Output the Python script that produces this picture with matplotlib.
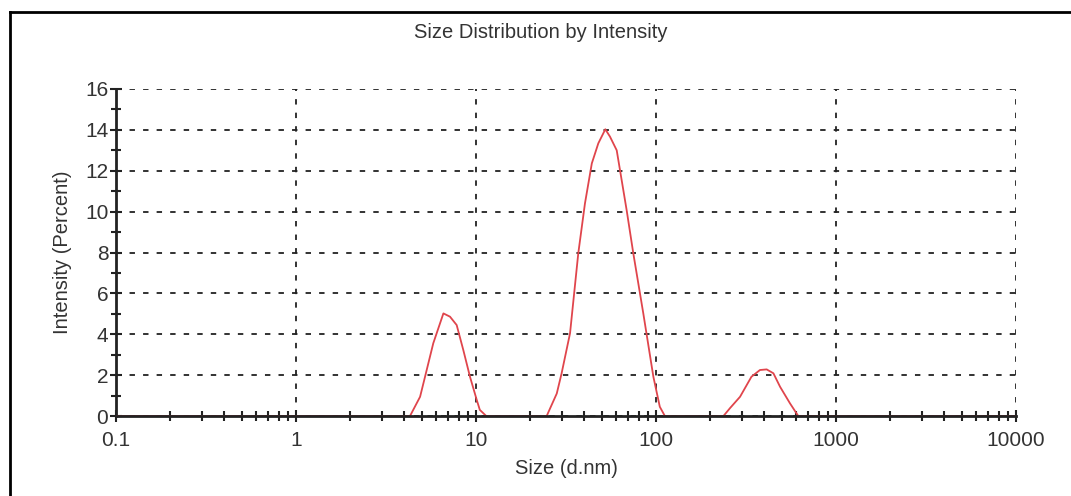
import matplotlib
matplotlib.use("Agg")
import matplotlib.pyplot as plt
from matplotlib.lines import Line2D
from matplotlib.ticker import LogLocator, FixedLocator, NullFormatter

plt.rcParams['font.family'] = ['Liberation Sans', 'DejaVu Sans']

title = "Size Distribution by Intensity"
x_label = "Size (d.nm)"
y_label = "Intensity (Percent)"

size_nm = [0.1, 4.3, 4.89, 5.21, 5.79, 6.59, 7.17, 7.81, 8.5, 9.26, 10.1, 10.5, 11.4,
           24.7, 28.1, 29.9, 33.3, 37, 40.3, 44, 47.8, 52.3, 55.5, 60.5, 68.7, 74.8,
           85, 96.7, 105, 112,
           237, 258, 293, 339, 378, 412, 449, 489, 555, 617, 10000]
intensity = [0, 0, 0.94, 1.92, 3.56, 5.02, 4.86, 4.45, 3.23, 1.92, 0.78, 0.3, 0,
             0, 1.1, 2.09, 4.05, 7.96, 10.4, 12.36, 13.34, 14.03, 13.67, 13.0, 10.07, 7.96,
             5.02, 1.92, 0.45, 0,
             0, 0.39, 0.94, 1.92, 2.25, 2.28, 2.09, 1.43, 0.62, 0, 0]

x_ticks = [0.1, 1, 10, 100, 1000, 10000]
x_tick_labels = ["0.1", "1", "10", "100", "1000", "10000"]
y_ticks = [0, 2, 4, 6, 8, 10, 12, 14, 16]
y_minor_ticks = [1, 3, 5, 7, 9, 11, 13, 15]

fig = plt.figure(figsize=(10.71, 4.96), dpi=100)
ax = fig.add_axes([116/1071, 1 - 416/496, (1016 - 116)/1071, (416 - 89)/496])

ax.plot(size_nm, intensity, color="#e0454c", linewidth=1.3, zorder=3)

ax.set_xscale("log")
ax.set_xlim(0.1, 10000)
ax.set_ylim(0, 16)
ax.set_xticks(x_ticks)
ax.set_xticklabels(x_tick_labels)
ax.xaxis.set_minor_locator(LogLocator(base=10, subs=range(2, 10)))
ax.xaxis.set_minor_formatter(NullFormatter())
ax.set_yticks(y_ticks)
ax.yaxis.set_minor_locator(FixedLocator(y_minor_ticks))

gridkw = dict(color="#222222", linestyle=(0, (3, 4.5)), linewidth=1.3)
ax.grid(True, which="major", **gridkw)

for s in ["top", "right"]:
    ax.spines[s].set_visible(False)
for s in ["left", "bottom"]:
    ax.spines[s].set_linewidth(2)
    ax.spines[s].set_color("#222222")
ax.spines["bottom"].set_zorder(4)

ax.tick_params(which="major", direction="inout", length=9, width=1.5, color="#222222",
               labelsize=15, labelcolor="#333333")
ax.tick_params(which="minor", direction="inout", length=7, width=1.5, color="#222222")
ax.tick_params(axis="x", which="major", pad=6)
ax.tick_params(axis="y", which="major", pad=1)

ax.set_xlabel(x_label, fontsize=14.5, color="#333333", labelpad=7)
ax.set_ylabel(y_label, fontsize=14.5, color="#333333", labelpad=9)
fig.text(541/1071, 1 - 32/496, title, ha="center", va="center", fontsize=14.5, color="#333333")

# figure border (top and left visible)
fig.add_artist(Line2D([10/1071, 10/1071], [0, 1 - 12/496], transform=fig.transFigure,
                      color="black", linewidth=2))
fig.add_artist(Line2D([10/1071, 1], [1 - 12/496, 1 - 12/496], transform=fig.transFigure,
                      color="black", linewidth=2))

fig.savefig("out.png", dpi=100, facecolor="white")
